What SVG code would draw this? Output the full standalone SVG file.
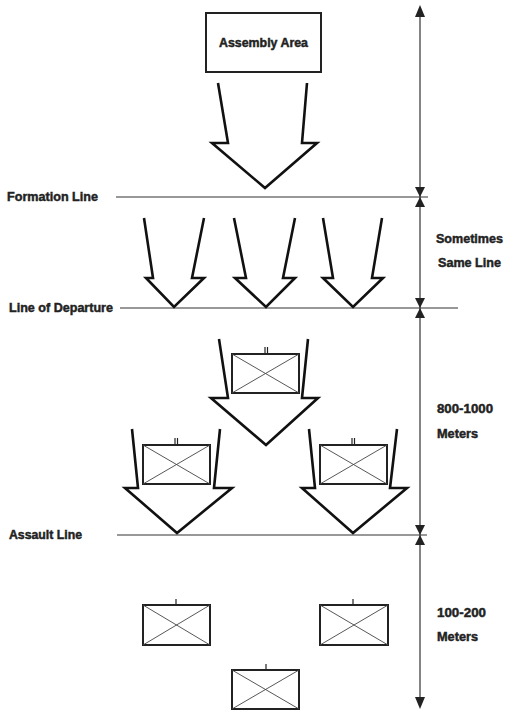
<svg xmlns="http://www.w3.org/2000/svg" width="506" height="711" viewBox="0 0 506 711">
<style>
.lbl{font-family:"Liberation Sans",Arial,sans-serif;font-weight:bold;font-size:12.5px;fill:#222;stroke:#222;stroke-width:0.45}
.arr{fill:none;stroke:#111;stroke-width:2.6;stroke-linejoin:miter}
.ln{stroke:#333;stroke-width:1.2;fill:none}
.box{fill:#fff;stroke:#222;stroke-width:2}
.x{stroke:#444;stroke-width:0.9}
.tick{stroke:#222;stroke-width:1.2}
.ah{fill:#222}
</style>
<rect width="506" height="711" fill="#fff"/>
<g id="assembly-area">
<rect x="206" y="13" width="115" height="59" fill="#fff" stroke="#222" stroke-width="2"/>
<text class="lbl" x="263.5" y="47" text-anchor="middle" textLength="89" lengthAdjust="spacingAndGlyphs">Assembly Area</text>
</g>
<g id="lines">
<line class="ln" x1="116" y1="197" x2="428" y2="197"/>
<text class="lbl" x="7" y="201" textLength="91" lengthAdjust="spacingAndGlyphs">Formation Line</text>
<line class="ln" x1="120" y1="308" x2="458" y2="308"/>
<text class="lbl" x="9" y="312" textLength="104" lengthAdjust="spacingAndGlyphs">Line of Departure</text>
<line class="ln" x1="117" y1="535" x2="427" y2="535"/>
<text class="lbl" x="9" y="539" textLength="73" lengthAdjust="spacingAndGlyphs">Assault Line</text>
</g>
<g id="connectors">
<polyline class="arr" points="218,83 228,143 212,143 265,188 317,143 302,143 307,83"/>
<polyline class="arr" points="144,218 153,278 146,278 174,307 204,278 192,278 204,218"/>
<polyline class="arr" points="234,218 246,278 235,278 266,307 295,278 283,278 295,218"/>
<polyline class="arr" points="323,218 333,278 323,278 353,307 383,278 372,278 382,218"/>
<polyline class="arr" points="219,339 228,398 211,398 266,445 318,398 302,398 308,339"/>
<polyline class="arr" points="132,429 138,488 125,488 177,533 232,488 214,488 220,429"/>
<polyline class="arr" points="309,429 315,488 302,488 353,533 407,488 390,488 397,429"/>
</g>
<g id="unit-top">
<line class="tick" x1="265" y1="347" x2="265" y2="354"/><line class="tick" x1="267.5" y1="347" x2="267.5" y2="354"/>
<rect class="box" x="232" y="354" width="67" height="39"/>
<line class="x" x1="232" y1="354" x2="299" y2="393"/><line class="x" x1="299" y1="354" x2="232" y2="393"/>
</g>
<g id="unit-left">
<line class="tick" x1="175" y1="438" x2="175" y2="445"/><line class="tick" x1="177.5" y1="438" x2="177.5" y2="445"/>
<rect class="box" x="143" y="445" width="67" height="39"/>
<line class="x" x1="143" y1="445" x2="210" y2="484"/><line class="x" x1="210" y1="445" x2="143" y2="484"/>
</g>
<g id="unit-right">
<line class="tick" x1="352" y1="438" x2="352" y2="445"/><line class="tick" x1="354.5" y1="438" x2="354.5" y2="445"/>
<rect class="box" x="320" y="445" width="67" height="39"/>
<line class="x" x1="320" y1="445" x2="387" y2="484"/><line class="x" x1="387" y1="445" x2="320" y2="484"/>
</g>
<g id="company-left">
<line class="tick" x1="176" y1="599" x2="176" y2="605"/>
<rect class="box" x="143" y="605" width="67" height="40"/>
<line class="x" x1="143" y1="605" x2="210" y2="645"/><line class="x" x1="210" y1="605" x2="143" y2="645"/>
</g>
<g id="company-right">
<line class="tick" x1="353" y1="599" x2="353" y2="605"/>
<rect class="box" x="320" y="605" width="68" height="40"/>
<line class="x" x1="320" y1="605" x2="388" y2="645"/><line class="x" x1="388" y1="605" x2="320" y2="645"/>
</g>
<g id="company-bottom">
<line class="tick" x1="266" y1="664" x2="266" y2="670"/>
<rect class="box" x="232" y="670" width="67" height="39"/>
<line class="x" x1="232" y1="670" x2="299" y2="709"/><line class="x" x1="299" y1="670" x2="232" y2="709"/>
</g>
<g id="dimension">
<line class="ln" x1="420" y1="8" x2="420" y2="706"/>
<polygon class="ah" points="420,5 415,17 425,17"/>
<polygon class="ah" points="420,197 415,187 425,187"/>
<polygon class="ah" points="420,197 415,207 425,207"/>
<polygon class="ah" points="420,308 415,298 425,298"/>
<polygon class="ah" points="420,308 415,318 425,318"/>
<polygon class="ah" points="420,535 415,525 425,525"/>
<polygon class="ah" points="420,535 415,545 425,545"/>
<polygon class="ah" points="420,709 415,697 425,697"/>
<text class="lbl" x="436" y="243" textLength="67" lengthAdjust="spacingAndGlyphs">Sometimes</text>
<text class="lbl" x="438" y="267" textLength="63" lengthAdjust="spacingAndGlyphs">Same Line</text>
<text class="lbl" x="437" y="413" textLength="56" lengthAdjust="spacingAndGlyphs">800-1000</text>
<text class="lbl" x="437" y="438" textLength="41" lengthAdjust="spacingAndGlyphs">Meters</text>
<text class="lbl" x="437" y="617" textLength="49" lengthAdjust="spacingAndGlyphs">100-200</text>
<text class="lbl" x="437" y="641" textLength="41" lengthAdjust="spacingAndGlyphs">Meters</text>
</g>
</svg>
